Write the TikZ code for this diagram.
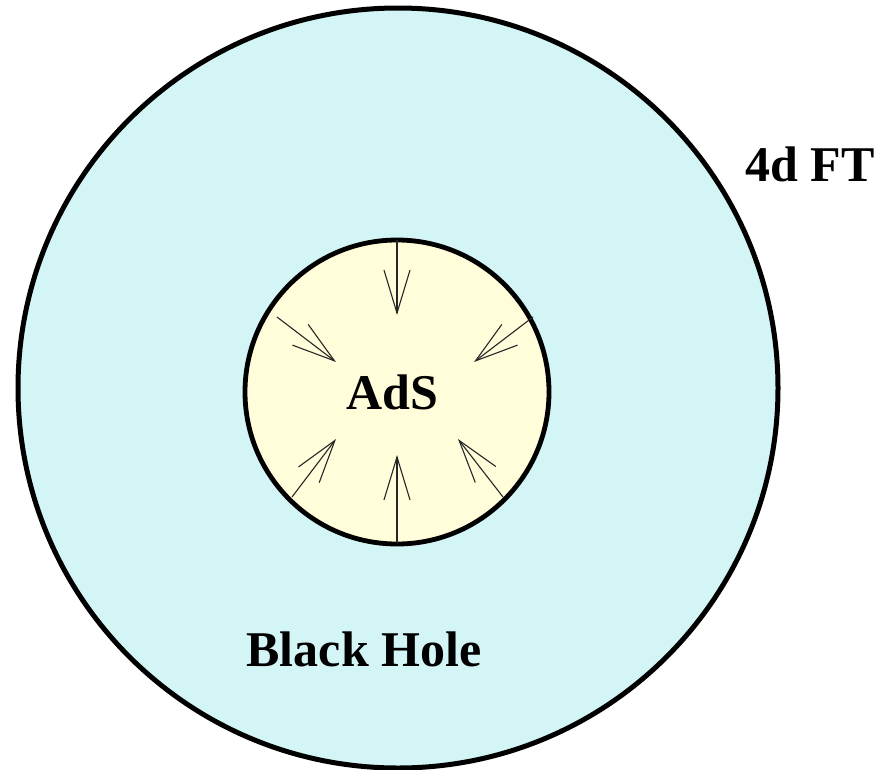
\documentclass[tikz,border=0pt]{standalone}
\usepackage{fontspec}
\setmainfont{Liberation Serif}
\usetikzlibrary{arrows.meta}
\definecolor{bhcyan}{RGB}{212,245,246}
\definecolor{adsyellow}{RGB}{255,253,218}
\tikzset{
  region/.style={circle, draw=black, inner sep=0pt},
  lbl/.style={font=\fontsize{50}{60}\selectfont\bfseries, inner sep=0pt},
  flow/.style={line width=1.1pt, draw=black!85, -{Straight Barb[length=43pt,width=26pt,line width=1.1pt]}}
}
\begin{document}
\begin{tikzpicture}[x=1pt,y=-1pt]
\useasboundingbox (0,0) rectangle (878,769);
\node[region, fill=bhcyan, line width=5pt, minimum size=760pt] (bh) at (398,388) {};
\node[region, fill=adsyellow, line width=4.8pt, minimum size=304pt] (ads) at (397,392) {};
\node[lbl] (adstext) at (392,392) {AdS};
\node[lbl] (bhtext) at (364,649) {Black Hole};
\node[lbl] (ft) at (810,164) {4d FT};
\coordinate (s1) at (397,240); \coordinate (t1) at (397,315);
\coordinate (s2) at (397,543); \coordinate (t2) at (397,455);
\coordinate (s3) at (277,317); \coordinate (t3) at (336,362);
\coordinate (s4) at (533,317); \coordinate (t4) at (474,362);
\coordinate (s5) at (292,497); \coordinate (t5) at (336,439);
\coordinate (s6) at (503,497); \coordinate (t6) at (458,439);
\foreach \i in {1,...,6} { \draw[flow] (s\i) -- (t\i); }
\end{tikzpicture}
\end{document}
